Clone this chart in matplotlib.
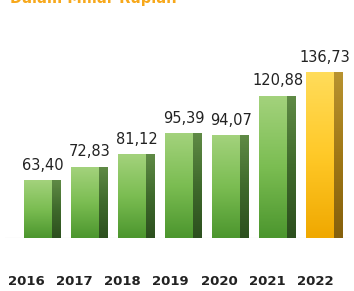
import matplotlib.pyplot as plt
import numpy as np
from matplotlib.colors import LinearSegmentedColormap

years = ['2016', '2017', '2018', '2019', '2020', '2021', '2022']
values = [63.40, 72.83, 81.12, 95.39, 94.07, 120.88, 136.73]
labels = ['63,40', '72,83', '81,12', '95,39', '94,07', '120,88', '136,73']

fig = plt.figure(figsize=(3.54, 2.91), dpi=100)
ax = fig.add_axes([0.014, 0.182, 0.975, 0.75])

x = np.arange(len(years))
front_w = 0.60
side_w = 0.19
base = 24.7

green = LinearSegmentedColormap.from_list('g', ['#a3d27c', '#7bbd52', '#4c962e'])
green_side = LinearSegmentedColormap.from_list('gs', ['#5f8a45', '#3f6a2c', '#2c4f1e'])
gold = LinearSegmentedColormap.from_list('y', ['#ffdc5a', '#ffc928', '#f0a800'])
gold_side = LinearSegmentedColormap.from_list('ys', ['#b89330', '#a07816', '#85600c'])
grad = np.linspace(0, 1, 100).reshape(-1, 1)

for i, v in enumerate(values):
    last = i == len(values) - 1
    left = x[i] - (front_w + side_w) / 2
    front = ax.bar(left, v - base, width=front_w, bottom=base, align='edge',
                   color='none', edgecolor='none')[0]
    ax.imshow(grad, cmap=gold if last else green, aspect='auto',
              extent=(left, left + front_w, base, v), origin='upper',
              clip_path=front, zorder=2)
    side = ax.bar(left + front_w, v - base, width=side_w, bottom=base, align='edge',
                  color='none', edgecolor='none')[0]
    ax.imshow(grad, cmap=gold_side if last else green_side, aspect='auto',
              extent=(left + front_w, left + front_w + side_w, base, v),
              origin='upper', clip_path=side, zorder=2)
    ax.text(x[i], v + 5.5, labels[i], ha='center', va='bottom',
            fontsize=10.5, color='#222222')

ax.axhline(base, color='#cccccc', lw=0.8, zorder=1)
ax.set_xlim(-0.8, 6.54)
ax.set_ylim(base, base + 218 / 1.473)
ax.axis('off')

# year labels sit slightly left of the bars in the original
for i, y in enumerate(years):
    fig.text((26.5 + i * 48.1) / 354, 0.02, y,
             ha='center', va='baseline', fontsize=9.5, fontweight='bold',
             color='#222222')

fig.text(0.028, 0.99, 'Dalam Miliar Rupiah', ha='left', va='baseline',
         fontsize=10.5, fontweight='bold', color='#f7a81b')

fig.savefig('out.png', dpi=100)
